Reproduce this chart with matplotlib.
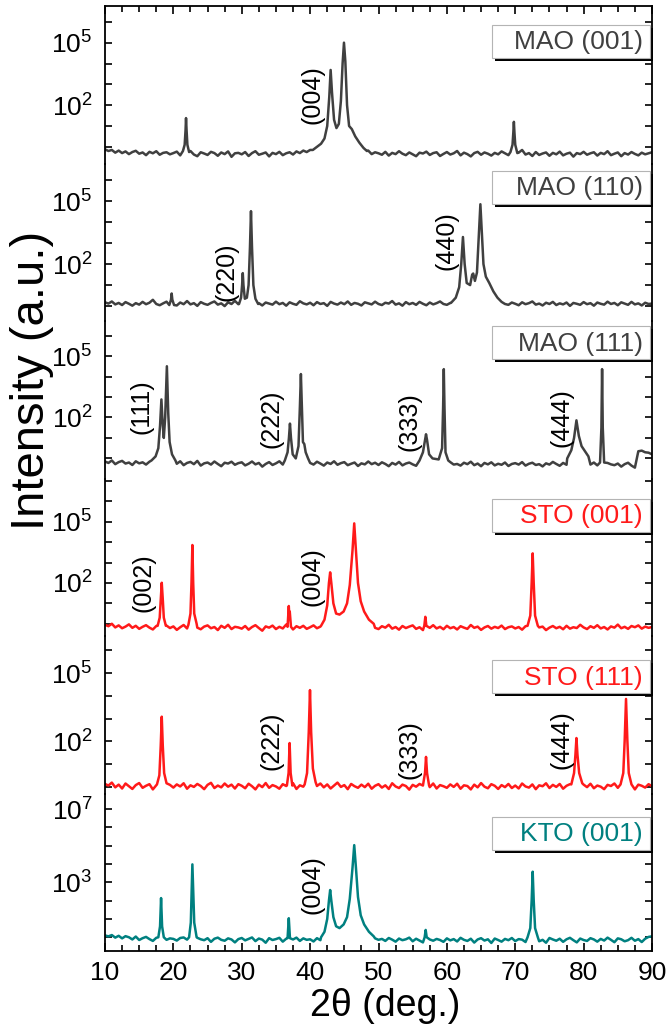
import numpy as np
import matplotlib

matplotlib.use("Agg")
import matplotlib.pyplot as plt
from matplotlib.patches import Rectangle
from matplotlib.ticker import FixedLocator, FuncFormatter, MultipleLocator, NullLocator

plt.rcParams['font.family'] = ['Liberation Sans', 'DejaVu Sans']
plt.rcParams['mathtext.default'] = 'regular'

W, H = 669, 1032
GRAY, RED, TEAL = '#404040', '#ff1a1a', '#008080'

# background sampled every 0.5 deg from 10 to 90, in log10(I) x 100
two_theta = np.arange(10, 90.01, 0.5)

bg_mao001 = [
    -12, -20, -15, -28, -18, -30, -22, -35, -25, -19, -33, -27, -40, -24, -31, -21, -38, -29, -26, -36,
    -30, -23, -41, -28, -34, -20, -37, -45, -26, -32, -39, -24, -30, -43, -27, -35, -22, -48, -31, -29,
    -36, -25, -44, -30, -21, -38, -33, -27, -46, -29, -35, -24, -40, -31, -26, -37, -22, -30, -18, -25,
    -15, -20, -10, -5, 0, 5, 10, 15, 20, 10, 0, -5, -12, -20, -8, -22, -30, -18, -35, -26,
    -31, -38, -24, -42, -29, -35, -21, -33, -40, -27, -36, -45, -28, -32, -23, -39, -30, -26, -44, -34,
    -25, -37, -31, -20, -41, -28, -35, -46, -30, -24, -38, -27, -33, -42, -29, -36, -22, -31, -40, -26,
    -34, -28, -15, -37, -30, -44, -25, -39, -32, -27, -43, -29, -36, -23, -41, -33, -28, -47, -30, -35,
    -24, -38, -31, -26, -42, -29, -35, -21, -40, -33, -27, -45, -30, -37, -25, -34, -41, -28, -36, -31,
    -26,
]
bg_mao110 = [
    18, 12, 22, 8, 15, 5, 19, 11, 2, 14, 7, 20, 9, 16, 30, 10, 4, 13, 21, 6,
    12, 3, 17, 9, 24, 8, 14, 1, 19, 11, 6, 15, 22, 7, 13, 0, 18, 10, 25, 9,
    5, 16, 11, 20, 8, 14, 3, 17, 12, 7, 21, 9, 15, 2, 18, 11, 6, 23, 13, 8,
    16, 4, 19, 10, 14, 1, 20, 12, 7, 17, 9, 22, 6, 15, 11, 3, 18, 13, 8, 21,
    10, 5, 16, 12, 24, 7, 13, 2, 19, 9, 15, 6, 20, 11, 4, 17, 8, 14, 22, 10,
    6, 15, 11, 3, 18, 9, 20, 7, 14, 12, 5, 19, 8, 16, 2, 13, 21, 10, 6, 17,
    11, 4, 18, 9, 14, 22, 7, 12, 3, 16, 10, 20, 5, 13, 8, 17, 1, 15, 11, 6,
    19, 9, 14, 2, 17, 11, 7, 21, 10, 15, 4, 18, 12, 6, 20, 8, 13, 3, 16, 10,
    12,
]
bg_mao111 = [
    -15, -22, -10, -28, -18, -12, -25, -20, -32, -14, -24, -19, -30, -16, -27, -21, -12, -29, -20, -10,
    -18, -26, -14, -33, -22, -17, -28, -12, -35, -24, -20, -30, -15, -27, -38, -21, -25, -16, -31, -23,
    -19, -34, -26, -15, -29, -22, -40, -27, -18, -32, -24, -14, -30, -21, -36, -25, -17, -28, -20, -12,
    -22, -30, -16, -25, -35, -20, -27, -14, -31, -23, -18, -33, -26, -20, -37, -24, -29, -15, -28, -21,
    -32, -19, -27, -38, -22, -30, -17, -34, -25, -20, -29, -36, -23, -16, -31, -26, -40, -21, -28, -33,
    -24, -18, -30, -27, -35, -21, -28, -16, -33, -25, -38, -22, -29, -19, -34, -26, -31, -20, -37, -27,
    -23, -30, -18, -35, -26, -21, -32, -28, -39, -24, -30, -17, -27, -36, -22, -31, -25, -19, -33, -28,
    -36, -24, -30, -20, -34, -27, -38, -22, -29, -33, -25, -40, -28, -21, -35, -45, 35, 38, 30, 28,
    20,
]
bg_sto001 = [
    -5, -12, 0, -18, -8, -22, -14, -3, -20, -10, -25, -15, -7, -19, -28, -11, -16, -24, -9, -21,
    -13, -30, -17, -6, -23, -12, -2, -19, -27, -14, -8, -22, -16, -31, -10, -20, -5, -26, -15, -18,
    -24, -11, -29, -16, -7, -21, -34, -13, -19, -9, -26, -15, -23, -4, -18, -28, -12, -20, -10, -25,
    -17, -8, -22, -14, -30, -19, -11, -24, -6, -16, -27, -13, -21, -9, -18, -32, -15, -23, -10, -20,
    -26, -12, -19, -5, -24, -16, -29, -11, -21, -14, -8, -25, -17, -31, -13, -20, -7, -23, -15, -27,
    -10, -22, -16, -28, -12, -19, -25, -6, -20, -14, -30, -18, -11, -24, -15, -21, -9, -26, -17, -13,
    -23, -16, -29, -12, -20, -8, -25, -18, -14, -31, -19, -11, -22, -15, -27, -10, -24, -17, -21, -5,
    -18, -26, -12, -20, -7, -23, -16, -28, -13, -19, -4, -22, -15, -25, -11, -17, -8, -24, -14, -20,
    -16,
]
bg_sto111 = [
    12, 5, 18, -3, 9, -8, 14, 2, -10, 7, 16, -5, 4, 11, -12, 6, -2, 13, -7, 8,
    -4, 10, 1, 15, -9, 6, -1, 12, 3, -11, 8, 17, -6, 5, -3, 14, 0, 9, -8, 11,
    4, -7, 13, 2, -12, 9, -2, 16, -5, 7, 1, -9, 11, 3, -4, 15, -10, 6, 0, 12,
    -6, 8, 3, 14, -3, 10, -8, 5, 18, -1, 7, -11, 12, 2, -5, 9, -2, 13, -9, 4,
    11, -4, 6, -10, 15, 1, -6, 9, 3, -13, 8, 0, 12, -7, 5, -2, 14, -8, 7, 2,
    -5, 10, -1, 13, -9, 6, 3, -12, 9, -3, 16, 0, -7, 11, 4, -10, 7, -2, 12, -6,
    5, -8, 14, 1, -4, 10, -11, 6, 2, 15, -6, 8, -1, 12, -9, 4, 11, -3, 7, -10,
    9, -2, 13, -7, 5, 0, -11, 8, 3, 14, -5, 10, -8, 6, 1, -12, 9, 4, -4, 11,
    2,
]
bg_kto001 = [
    10, 5, 12, -2, 8, -6, 6, 0, -12, 4, -15, -5, 2, -10, -20, -3, -8, 1, -14, -6,
    -9, -18, -4, -1, -13, -7, -22, -3, -11, -16, -5, -25, -8, -2, -14, -19, -6, -12, -28, -10,
    -4, -17, -9, -1, -21, -7, -13, -30, -5, -15, -10, -3, -24, -8, -18, -12, -2, -20, -6, -14,
    -11, -23, -5, -16, -9, -2, -19, -13, -7, -26, -4, -15, -10, -21, -3, -17, -8, -12, -27, -6,
    -14, -9, -20, -4, -13, -24, -7, -16, -11, -2, -22, -8, -18, -28, -5, -12, -19, -9, -15, -25,
    -6, -17, -10, -23, -3, -14, -20, -8, -29, -12, -5, -18, -11, -31, -7, -15, -24, -9, -16, -4,
    -21, -10, -13, -26, -6, -17, -9, -22, -14, -30, -4, -12, -19, -8, -25, -11, -3, -16, -28, -7,
    -15, -20, -5, -12, -24, -9, -18, -2, -14, -27, -6, -11, -22, -16, -3, -19, -10, -26, -8, 2,
    5,
]

# reflections: (2theta, log10 I) points
pk_mao001 = [
    [(21.4, -0.2), (21.65, 0.1), (21.78, 0.8), (21.85, 1.38), (21.93, 0.8), (22.05, 0.1), (22.3, -0.25)],
    [(40.4, -0.15), (41.0, 0.0), (41.6, 0.15), (42.1, 0.4), (42.5, 1.0), (42.8, 2.4), (43.0, 3.69),
     (43.2, 2.6), (43.5, 1.3), (43.85, 0.9), (44.2, 1.1), (44.5, 2.2), (44.75, 4.0), (44.95, 5.0),
     (45.15, 4.1), (45.4, 2.0), (45.7, 1.0), (46.1, 0.85), (46.6, 0.5), (47.2, 0.2), (47.8, -0.05),
     (48.3, -0.2)],
    [(69.3, -0.25), (69.6, 0.1), (69.72, 0.7), (69.8, 1.2), (69.88, 0.7), (70.0, 0.1), (70.3, -0.3)],
]
pk_mao110 = [
    [(19.4, 0.05), (19.65, 0.3), (19.75, 0.6), (19.85, 0.3), (20.1, 0.05)],
    [(29.6, 0.1), (29.9, 0.4), (30.05, 1.0), (30.15, 1.57), (30.25, 1.0), (30.45, 0.35), (30.75, 0.4),
     (31.0, 1.0), (31.2, 2.8), (31.35, 4.52), (31.5, 2.8), (31.7, 1.0), (32.0, 0.35), (32.4, 0.1)],
    [(60.6, 0.15), (61.3, 0.4), (61.8, 0.9), (62.1, 2.0), (62.35, 3.29), (62.6, 2.0), (62.9, 1.1),
     (63.4, 1.0), (63.7, 1.5), (63.85, 1.55), (64.1, 1.2), (64.4, 1.6), (64.7, 3.6), (64.9, 4.85),
     (65.1, 3.6), (65.35, 2.0), (65.7, 1.4), (66.2, 1.1), (66.8, 0.7), (67.4, 0.4), (68.0, 0.2)],
]
pk_mao111 = [
    [(16.8, -0.1), (17.4, 0.1), (17.8, 0.5), (18.05, 1.6), (18.25, 2.88), (18.45, 1.6), (18.6, 1.0),
     (18.8, 2.0), (19.05, 4.5), (19.25, 2.2), (19.45, 0.8), (19.8, 0.2), (20.3, -0.1)],
    [(36.3, -0.1), (36.7, 0.3), (36.9, 1.0), (37.05, 1.7), (37.2, 1.0), (37.45, 0.2), (37.9, 0.0),
     (38.3, 0.6), (38.5, 2.5), (38.65, 4.12), (38.8, 2.5), (38.95, 0.8), (39.15, 0.7), (39.35, 0.3),
     (39.7, 0.0)],
    [(56.0, -0.1), (56.5, 0.3), (56.8, 0.9), (56.95, 1.18), (57.1, 0.9), (57.4, 0.2), (57.9, 0.0),
     (58.8, -0.05), (59.3, 0.5), (59.45, 2.5), (59.55, 4.36), (59.65, 2.5), (59.8, 0.3), (60.2, -0.1)],
    [(77.6, 0.0), (78.2, 0.4), (78.6, 1.0), (78.95, 1.86), (79.3, 1.1), (79.7, 0.6), (80.2, 0.35),
     (80.7, 0.1)],
    [(82.4, -0.2), (82.6, 1.5), (82.7, 4.36), (82.8, 1.5), (83.0, -0.2)],
]
pk_sto001 = [
    [(17.7, -0.1), (18.0, 0.3), (18.15, 1.2), (18.3, 2.01), (18.45, 1.2), (18.6, 0.3), (18.9, -0.1)],
    [(22.2, -0.05), (22.5, 0.5), (22.65, 2.0), (22.78, 3.86), (22.9, 2.0), (23.05, 0.5), (23.4, 0.0)],
    [(36.7, -0.15), (36.88, 0.87), (36.95, 0.4), (37.02, 0.6), (37.2, -0.15)],
    [(41.6, -0.1), (42.1, 0.2), (42.5, 0.9), (42.75, 2.0), (42.93, 2.52), (43.1, 2.0), (43.4, 1.0),
     (43.8, 0.5), (44.3, 0.45), (44.9, 0.6), (45.4, 1.0), (45.8, 1.9), (46.2, 3.6), (46.45, 4.92),
     (46.7, 3.6), (47.0, 2.0), (47.4, 1.1), (47.9, 0.6), (48.6, 0.2), (49.3, 0.0)],
    [(56.7, -0.1), (56.85, 0.34), (57.0, -0.1)],
    [(71.8, -0.1), (72.2, 0.4), (72.4, 2.0), (72.55, 3.45), (72.7, 2.0), (72.9, 0.4), (73.3, -0.1)],
]
pk_sto111 = [
    [(17.6, 0.1), (17.95, 0.5), (18.15, 1.8), (18.3, 3.08), (18.45, 1.8), (18.65, 0.6), (19.0, 0.15)],
    [(36.6, 0.05), (36.85, 0.6), (37.0, 1.92), (37.15, 0.6), (37.4, 0.05)],
    [(39.2, 0.1), (39.55, 0.6), (39.8, 2.4), (39.98, 4.25), (40.15, 2.4), (40.4, 0.8), (40.8, 0.2)],
    [(56.5, 0.05), (56.8, 0.6), (56.95, 1.31), (57.1, 0.6), (57.4, 0.05)],
    [(78.2, 0.1), (78.6, 0.6), (78.8, 1.4), (78.95, 2.14), (79.1, 1.4), (79.35, 0.6), (79.8, 0.15)],
    [(85.4, 0.1), (85.8, 0.6), (86.0, 2.0), (86.2, 3.86), (86.4, 2.0), (86.6, 0.6), (87.0, 0.1)],
]
pk_kto001 = [
    [(17.8, 0.0), (18.05, 0.6), (18.2, 2.14), (18.35, 0.6), (18.6, 0.0)],
    [(22.3, 0.0), (22.55, 0.8), (22.68, 2.5), (22.78, 3.98), (22.9, 2.5), (23.05, 0.8), (23.4, 0.0)],
    [(36.7, -0.05), (36.88, 1.04), (37.05, -0.05)],
    [(41.6, 0.0), (42.1, 0.3), (42.5, 1.0), (42.75, 2.0), (42.93, 2.58), (43.1, 2.0), (43.4, 1.1),
     (43.8, 0.6), (44.3, 0.5), (44.9, 0.7), (45.4, 1.1), (45.8, 2.1), (46.2, 3.8), (46.45, 5.03),
     (46.7, 3.8), (47.0, 2.2), (47.4, 1.2), (47.9, 0.7), (48.6, 0.3), (49.3, 0.05)],
    [(56.75, 0.0), (56.9, 0.4), (57.05, 0.0)],
    [(71.8, 0.0), (72.2, 0.5), (72.4, 2.0), (72.55, 3.58), (72.7, 2.0), (72.9, 0.5), (73.3, 0.0)],
]

# peak index labels: (2theta, log10 I, text)
hkl_mao001 = [(40.4, 2.49, '(004)')]
hkl_mao110 = [(27.7, 1.62, '(220)'), (59.9, 3.14, '(440)')]
hkl_mao111 = [(15.3, 2.51, '(111)'), (34.4, 1.93, '(222)'), (54.6, 1.78, '(333)'), (76.8, 1.98, '(444)')]
hkl_sto001 = [(15.7, 2.0, '(002)'), (40.4, 2.33, '(004)')]
hkl_sto111 = [(34.4, 2.01, '(222)'), (54.6, 1.62, '(333)'), (76.8, 2.05, '(444)')]
hkl_kto001 = [(40.4, 2.85, '(004)')]

names = ['MAO (001)', 'MAO (110)', 'MAO (111)', 'STO (001)', 'STO (111)', 'KTO (001)']
colors = [GRAY, GRAY, GRAY, RED, RED, TEAL]
backgrounds = [bg_mao001, bg_mao110, bg_mao111, bg_sto001, bg_sto111, bg_kto001]
peak_sets = [pk_mao001, pk_mao110, pk_mao111, pk_sto001, pk_sto111, pk_kto001]
hkl_sets = [hkl_mao001, hkl_mao110, hkl_mao111, hkl_sto001, hkl_sto111, hkl_kto001]
log_limits = [(-0.80, 6.76), (-0.71, 6.79), (-0.98, 6.71), (-0.60, 7.12), (-0.30, 6.63), (-0.75, 7.85)]
labeled_exps = [(2, 5), (2, 5), (2, 5), (2, 5), (2, 5), (3, 7)]

# layout in pixels
AX_L, AX_R, AX_T, AX_B = 105, 652, 6, 951
PANEL_H = (AX_B - AX_T) / 6
BOX_L, BOX_W, BOX_H = 492, 158, 33
box_tops = [25, 171, 326, 499, 660, 817]


def trace(bg, peaks):
    x = two_theta
    y = np.asarray(bg, float) / 100.0
    keep = np.ones(len(x), bool)
    for seg in peaks:
        keep &= ~((x >= seg[0][0]) & (x <= seg[-1][0]))
    xs = [x[keep]] + [np.array([p[0] for p in seg]) for seg in peaks]
    ys = [y[keep]] + [np.array([p[1] for p in seg]) for seg in peaks]
    xs, ys = np.concatenate(xs), np.concatenate(ys)
    order = np.argsort(xs)
    return xs[order], 10.0 ** ys[order]


def fig_rect(left, top, w, h):
    return [left / W, 1 - (top + h) / H, w / W, h / H]


fig = plt.figure(figsize=(W / 100, H / 100), dpi=100)

for i in range(6):
    top = AX_T + i * PANEL_H
    ax = fig.add_axes(fig_rect(AX_L, top, AX_R - AX_L, PANEL_H))
    ax.patch.set_alpha(0)
    xs, ys = trace(backgrounds[i], peak_sets[i])
    ax.plot(xs, ys, color=colors[i], lw=1.8)

    lo, hi = log_limits[i]
    ax.set_yscale('log')
    ax.set_ylim(10 ** lo, 10 ** hi)
    ax.set_xlim(10, 90)
    exps = np.arange(np.ceil(lo), np.floor(hi) + 1)
    ax.yaxis.set_major_locator(FixedLocator(10.0 ** exps))
    ax.yaxis.set_minor_locator(NullLocator())
    keep_exps = labeled_exps[i]
    ax.yaxis.set_major_formatter(FuncFormatter(
        lambda v, pos, k=keep_exps: r'$\mathregular{10^{%d}}$' % round(np.log10(v))
        if round(np.log10(v)) in k else ''))
    ax.tick_params(axis='y', which='both', direction='in', left=True, right=True,
                   length=5, width=1.2, labelsize=19, pad=9)

    ax.xaxis.set_major_locator(MultipleLocator(10))
    ax.xaxis.set_minor_locator(MultipleLocator(2.5))
    ax.tick_params(axis='x', which='both', direction='in', top=(i == 0), bottom=(i == 5),
                   labelbottom=(i == 5), width=1.2, labelsize=19, pad=7)
    ax.tick_params(axis='x', which='major', length=6)
    ax.tick_params(axis='x', which='minor', length=4)

    for side in ('left', 'right', 'top', 'bottom'):
        ax.spines[side].set_linewidth(1.3)
    ax.spines['top'].set_visible(i == 0)
    ax.spines['bottom'].set_visible(i == 5)

    for tx, ty, lab in hkl_sets[i]:
        ax.text(tx, 10 ** ty, lab, rotation=90, ha='center', va='center', fontsize=18,
                color='black')

    # label box with a black drop shadow
    bt = box_tops[i]
    fig.add_artist(Rectangle(fig_rect(BOX_L + 3, bt + 3, BOX_W, BOX_H)[:2], BOX_W / W, BOX_H / H,
                             transform=fig.transFigure, facecolor='black', edgecolor='none',
                             zorder=5))
    fig.add_artist(Rectangle(fig_rect(BOX_L, bt, BOX_W, BOX_H)[:2], BOX_W / W, BOX_H / H,
                             transform=fig.transFigure, facecolor='white', edgecolor='#b4b4b4',
                             lw=0.8, zorder=6))
    fig.text((BOX_L + BOX_W - 7) / W, 1 - (bt + BOX_H / 2 + 1) / H, names[i], ha='right',
             va='center', fontsize=19, color=colors[i], zorder=7)

fig.text(32 / W, 1 - 380 / H, 'Intensity (a.u.)', rotation=90, ha='center', va='center',
         fontsize=34)
fig.text(385 / W, 1 - 1006 / H, '2θ (deg.)', ha='center', va='center', fontsize=27)

fig.savefig('out.png', dpi=100)
